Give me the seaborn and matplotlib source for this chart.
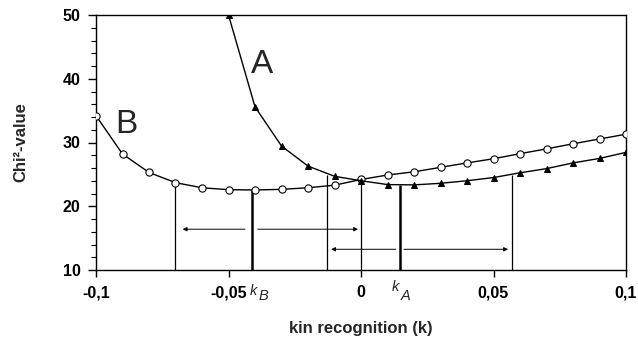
import matplotlib
matplotlib.use("Agg")
import matplotlib.pyplot as plt
import seaborn as sns

# chi2 value against kin recognition value k
k_b = [-0.1, -0.09, -0.08, -0.07, -0.06, -0.05, -0.04, -0.03, -0.02, -0.01, 0.0,
       0.01, 0.02, 0.03, 0.04, 0.05, 0.06, 0.07, 0.08, 0.09, 0.1]
chi_b = [34.2, 28.2, 25.3, 23.7, 22.9, 22.6, 22.55, 22.65, 22.9, 23.3, 24.2,
         24.9, 25.4, 26.1, 26.8, 27.45, 28.25, 29.0, 29.8, 30.55, 31.3]

k_a = [-0.05, -0.04, -0.03, -0.02, -0.01, 0.0, 0.01, 0.02, 0.03, 0.04, 0.05,
       0.06, 0.07, 0.08, 0.09, 0.1]
chi_a = [50.0, 35.6, 29.45, 26.3, 24.7, 24.0, 23.4, 23.35, 23.6, 24.0, 24.5,
         25.25, 25.9, 26.8, 27.5, 28.45]

# interval bounds and best estimates (vertical lines)
bound_k = [-0.07, -0.013, 0.0, 0.057]
bound_top = [23.7, 24.9, 24.2, 24.9]
best_k = [-0.041, 0.0147]
best_top = [22.55, 23.35]

# arrows: (start, end, height)
arrow_start = [-0.0438, -0.0389, 0.0131, 0.0162]
arrow_end = [-0.0673, -0.0011, -0.0113, 0.0555]
arrow_y = [16.4, 16.4, 13.25, 13.25]

x_ticks = [-0.1, -0.05, 0.0, 0.05, 0.1]
x_tick_labels = ['-0,1', '-0,05', '0', '0,05', '0,1']
y_ticks = [10, 20, 30, 40, 50]

sns.set_style('ticks')
plt.rcParams['font.family'] = ['Liberation Sans', 'DejaVu Sans']

fig = plt.figure(figsize=(6.38, 3.39), dpi=100)
ax = fig.add_axes([96 / 638, 1 - 270 / 339, 530 / 638, 255 / 339])

sns.lineplot(x=k_b, y=chi_b, ax=ax, color='black', lw=1, marker='o',
             markersize=5.2, markerfacecolor='white', markeredgecolor='black',
             markeredgewidth=0.8, zorder=3)
sns.lineplot(x=k_a, y=chi_a, ax=ax, color='black', lw=1, marker='^',
             markersize=5, markerfacecolor='black', markeredgecolor='black',
             zorder=4)

ax.vlines(bound_k, 10, bound_top, color='black', lw=0.9, zorder=2)
ax.vlines(best_k, 10, best_top, color='black', lw=1.8, zorder=2)

for x0, x1, y in zip(arrow_start, arrow_end, arrow_y):
    ax.annotate('', xy=(x1, y), xytext=(x0, y),
                arrowprops=dict(arrowstyle='-|>', lw=0.7, color='black',
                                mutation_scale=6, shrinkA=0, shrinkB=0))

ax.text(-0.0372, 42.2, 'A', fontsize=24, ha='center', va='center')
ax.text(-0.0885, 32.9, 'B', fontsize=24, ha='center', va='center')

# k_B and k_A labels under the axis
ax.text(-0.0419, 6.1, 'k', fontsize=10.5, style='italic', va='baseline', clip_on=False)
ax.text(-0.0385, 5.3, 'B', fontsize=10.5, style='italic', va='baseline', clip_on=False)
ax.text(0.0117, 6.7, 'k', fontsize=10.5, style='italic', va='baseline', clip_on=False)
ax.text(0.0151, 5.3, 'A', fontsize=10.5, style='italic', va='baseline', clip_on=False)

ax.set_xlim(-0.1, 0.1)
ax.set_ylim(10, 50)
ax.set_xticks(x_ticks, x_tick_labels, fontweight='bold', fontsize=11.5)
ax.set_yticks(y_ticks, [str(v) for v in y_ticks], fontweight='bold', fontsize=11.5)
ax.set_yticks(range(10, 51, 2), minor=True)
ax.tick_params(axis='x', direction='out', length=5, width=1, pad=6, colors='black')
ax.tick_params(axis='y', which='major', direction='out', length=6, width=1, pad=5, colors='black')
ax.tick_params(axis='y', which='minor', direction='out', length=3.5, width=0.8, colors='black')
for s in ax.spines.values():
    s.set_visible(True)
    s.set_color('black')
    s.set_linewidth(1)

ax.set_xlabel('kin recognition (k)', fontweight='bold', fontsize=12)
ax.set_ylabel('Chi²-value', fontweight='bold', fontsize=12)
ax.xaxis.set_label_coords(0.5, -0.2)
ax.yaxis.set_label_coords(-0.128, 0.5)

fig.savefig('out.png', dpi=100)
